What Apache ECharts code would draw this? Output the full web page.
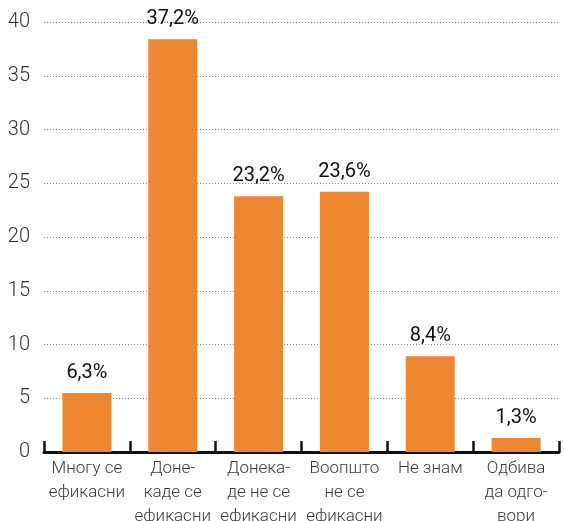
<!DOCTYPE html>
<html>
<head>
<meta charset="utf-8">
<script src="https://cdn.jsdelivr.net/npm/echarts@6/dist/echarts.min.js"></script>
<style>
  html, body { margin: 0; padding: 0; background: #fff; }
  #chart { width: 564px; height: 521px; }
</style>
</head>
<body>
<div id="chart"></div>
<script>
// категории (со преломи како во оригиналот)
const categories = [
  'Многу се\nефикасни',
  'Доне-\nкаде се\nефикасни',
  'Донека-\nде не се\nефикасни',
  'Воопшто\nне се\nефикасни',
  'Не знам',
  'Одбива\nда одго-\nвори'
]
// висини на столбовите, прочитани од сликата
const barValues = [5.5, 38.4, 23.8, 24.2, 8.9, 1.3]
// натписи над столбовите
const barLabels = ['6,3%', '37,2%', '23,2%', '23,6%', '8,4%', '1,3%']
// y оска
const yMin = 0
const yMax = 40
const yStep = 5

const FONT = 'Roboto'

const chart = echarts.init(document.getElementById('chart'))
chart.setOption({
  animation: false,
  grid: { left: 44, right: 5, top: 22, bottom: 69, containLabel: false, outerBoundsMode: 'none' },
  xAxis: {
    type: 'category',
    data: categories,
    axisLine: { lineStyle: { color: '#111', width: 3 } },
    axisTick: { show: true, inside: true, length: 11, lineStyle: { color: '#111', width: 2.5 } },
    axisLabel: {
      margin: 5,
      fontFamily: FONT,
      fontWeight: 300,
      fontSize: 17,
      lineHeight: 24,
      color: '#3a3a3a',
      interval: 0
    }
  },
  yAxis: {
    type: 'value',
    min: yMin,
    max: yMax,
    interval: yStep,
    axisLine: { show: false },
    axisTick: { show: false },
    axisLabel: { margin: 14, fontFamily: FONT, fontWeight: 300, fontSize: 20, color: '#333' },
    splitLine: { lineStyle: { color: '#888', type: [1, 2], width: 1 } }
  },
  series: [{
    type: 'bar',
    data: barValues,
    barWidth: 49,
    itemStyle: { color: '#ED8730' },
    label: {
      show: true,
      position: 'top',
      distance: 10,
      fontFamily: FONT,
      fontSize: 20,
      color: '#111',
      formatter: p => barLabels[p.dataIndex]
    }
  }]
})
</script>
</body>
</html>
